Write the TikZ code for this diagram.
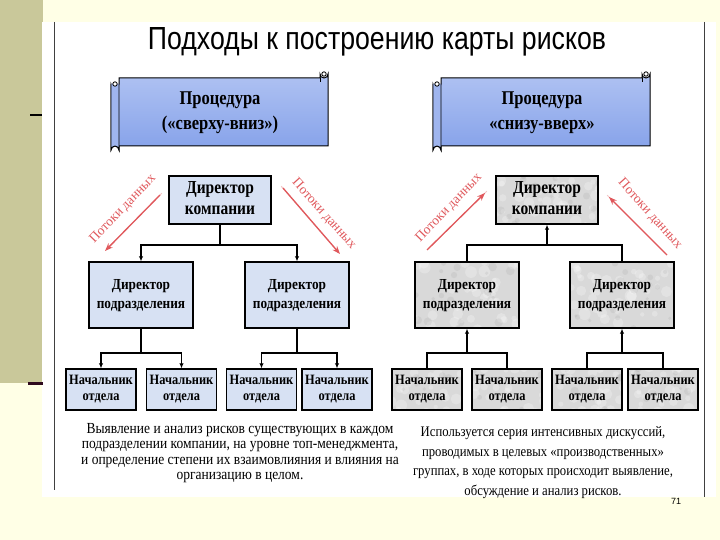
\documentclass[tikz,border=0pt]{standalone}
\usepackage{fontspec}
\setmainfont{Liberation Serif}
\newfontfamily\arialfont{Liberation Sans}
\usetikzlibrary{arrows.meta}
\definecolor{bgyel}{HTML}{FFFFE6}
\definecolor{khaki}{HTML}{C9C89A}
\definecolor{darkline}{HTML}{2E0A1E}
\definecolor{bluebox}{HTML}{D7E1F3}
\definecolor{graybox}{HTML}{D9D9D9}
\definecolor{redflow}{HTML}{E0585C}
\definecolor{bnTop}{HTML}{AFC2F2}
\definecolor{bnMid}{HTML}{F0F3FC}
\definecolor{bnBot}{HTML}{86A2EA}
\definecolor{rollblue}{HTML}{9FB5EE}
\newcommand{\vst}[2]{\scalebox{1}[#1]{\begin{tabular}{@{}c@{}}#2\end{tabular}}}
\tikzset{
  boxbase/.style={draw=black, line width=1.4pt, inner sep=0pt, align=center},
  bluebx/.style={boxbase, fill=bluebox},
  graybx/.style={boxbase, fill=graybox, path picture={
    \foreach \i in {1,...,40}{
      \pgfmathsetmacro\rx{rand*55}\pgfmathsetmacro\ry{rand*35}\pgfmathsetmacro\rr{2+4*rnd}
      \fill[white,opacity=0.25] ([shift={(\rx pt,\ry pt)}]path picture bounding box.center) circle (\rr pt);
    }
    \foreach \i in {1,...,20}{
      \pgfmathsetmacro\rx{rand*55}\pgfmathsetmacro\ry{rand*35}\pgfmathsetmacro\rr{1.5+3*rnd}
      \fill[gray,opacity=0.12] ([shift={(\rx pt,\ry pt)}]path picture bounding box.center) circle (\rr pt);
    }}},
  compbox/.style={minimum width=102pt, minimum height=48pt},
  subbox/.style={minimum width=104pt, minimum height=66pt},
  deptbox/.style={minimum width=70pt, minimum height=41pt},
  conn/.style={line width=1.4pt},
  arr/.style={conn, -{Latex[length=5pt,width=4.5pt]}},
  flow/.style={redflow, line width=1.3pt, -{Stealth[length=8pt,width=6pt]}},
  flowshade/.style={redflow!35, line width=1pt},
  flowtxt/.style={text=redflow, font=\fontsize{13.5}{13.5}\selectfont, inner sep=0pt},
  banner/.style={draw=black, line width=1pt, top color=bnTop, middle color=bnMid, bottom color=bnBot},
  compfont/.style={font=\fontsize{15.5}{18}\selectfont\bfseries},
  subfont/.style={font=\fontsize{13.3}{16.5}\selectfont\bfseries},
  deptfont/.style={font=\fontsize{12.4}{14}\selectfont\bfseries},
}
\newcommand{\scrollshape}{%
  \path[banner] (119,78) -- (320,78) -- (320,74) arc[start angle=180, end angle=360, radius=4pt]
    -- (328,146) -- (119,146) -- (119,150) arc[start angle=0, end angle=180, radius=4pt]
    -- (111,84) arc[start angle=180, end angle=360, radius=4pt] -- cycle;
  \draw[line width=0.9pt, fill=rollblue] (111,84) -- (111,150) arc[start angle=180, end angle=0, radius=4pt] -- (119,84);
  \draw[line width=0.8pt, fill=white] (115,84) circle (2.2pt);
  \draw[line width=0.8pt, fill=white] (324,74) circle (2.2pt);
  \draw[line width=0.9pt] (320,78) -- (320,82);
}
\begin{document}
\begin{tikzpicture}[x=1pt,y=-1pt]
\pgfmathsetseed{7}
\useasboundingbox (0,0) rectangle (720,540);
% slide background
\fill[bgyel] (0,0) rectangle (720,540);
\fill[khaki] (0,0) rectangle (43,383);
\fill[white] (42,22) rectangle (716,497);
\draw[darkline, line width=3pt] (28,383) -- (43,383);
\draw[line width=1.5pt] (30,115) -- (42,115);
\draw[black!75, line width=0.8pt] (54,22) -- (54,490);
\draw[black!75, line width=0.8pt] (704,22) -- (704,497);
% title
\node[anchor=base, inner sep=0pt] (title) at (377,50)
  {\resizebox{458pt}{22pt}{\arialfont\fontsize{30}{30}\selectfont Подходы к построению карты рисков}};
% banners
\scrollshape
\begin{scope}[xshift=322pt]\scrollshape\end{scope}
\node[font=\fontsize{16.5}{21.6}\selectfont\bfseries, inner sep=0pt] (BL) at (220,112)
  {\vst{1.18}{Процедура\\(«сверху-вниз»)}};
\node[font=\fontsize{16.5}{21.6}\selectfont\bfseries, inner sep=0pt] (BR) at (542,112)
  {\vst{1.18}{Процедура\\«снизу-вверх»}};
% ---------- left tree ----------
\node[bluebx, compbox, compfont] (LC) at (220,200) {\vst{1.18}{Директор\\компании}};
\node[bluebx, subbox, subfont] (LS1) at (141,295) {\vst{1.15}{Директор\\подразделения}};
\node[bluebx, subbox, subfont] (LS2) at (297,295) {\vst{1.15}{Директор\\подразделения}};
\node[bluebx, deptbox, deptfont] (LB1) at (101,389.5) {\vst{1.15}{Начальник\\отдела}};
\node[bluebx, deptbox, deptfont] (LB2) at (181.5,389.5) {\vst{1.15}{Начальник\\отдела}};
\node[bluebx, deptbox, deptfont] (LB3) at (261.5,389.5) {\vst{1.15}{Начальник\\отдела}};
\node[bluebx, deptbox, deptfont] (LB4) at (337,389.5) {\vst{1.15}{Начальник\\отдела}};
\coordinate (lj0) at (220,245);
\coordinate (lj1) at (141,353);
\coordinate (lj2) at (297,353);
\draw[conn] (LC.south) -- (lj0);
\draw[arr] (lj0) -| (LS1.north);
\draw[arr] (lj0) -| (LS2.north);
\draw[conn] (LS1.south) -- (lj1);
\draw[arr] (lj1) -| (LB1.north);
\draw[arr] (lj1) -| (LB2.north);
\draw[conn] (LS2.south) -- (lj2);
\draw[arr] (lj2) -| (LB3.north);
\draw[arr] (lj2) -| (LB4.north);
% red flows left
\coordinate (lf1a) at (160,195); \coordinate (lf1b) at (105,251);
\coordinate (lf2a) at (283,188); \coordinate (lf2b) at (340,254);
\draw[flowshade] ([shift={(1.8pt,1.8pt)}]lf1a) -- ([shift={(1.8pt,1.8pt)}]lf1b);
\draw[flowshade] ([shift={(-1.8pt,1.8pt)}]lf2a) -- ([shift={(-1.8pt,1.8pt)}]lf2b);
\draw[flow] (lf1a) -- (lf1b);
\draw[flow] (lf2a) -- (lf2b);
\node[flowtxt, rotate=46] (LFt1) at (123,209) {Потоки данных};
\node[flowtxt, rotate=-48] (LFt2) at (324,214) {Потоки данных};
% ---------- right tree ----------
\node[graybx, compbox, compfont] (RC) at (547,200) {\vst{1.18}{Директор\\компании}};
\node[graybx, subbox, subfont] (RS1) at (467,295) {\vst{1.15}{Директор\\подразделения}};
\node[graybx, subbox, subfont] (RS2) at (622,295) {\vst{1.15}{Директор\\подразделения}};
\node[graybx, deptbox, deptfont] (RB1) at (427,389.5) {\vst{1.15}{Начальник\\отдела}};
\node[graybx, deptbox, deptfont] (RB2) at (507,389.5) {\vst{1.15}{Начальник\\отдела}};
\node[graybx, deptbox, deptfont] (RB3) at (587,389.5) {\vst{1.15}{Начальник\\отдела}};
\node[graybx, deptbox, deptfont] (RB4) at (663,389.5) {\vst{1.15}{Начальник\\отдела}};
\coordinate (rj0) at (547,245);
\coordinate (rj1) at (467,353);
\coordinate (rj2) at (622,353);
\draw[conn] (RS1.north) |- (rj0) -| (RS2.north);
\draw[arr] (rj0) -- (RC.south);
\draw[conn] (RB1.north) |- (rj1) -| (RB2.north);
\draw[arr] (rj1) -- (RS1.south);
\draw[conn] (RB3.north) |- (rj2) -| (RB4.north);
\draw[arr] (rj2) -- (RS2.south);
% red flows right
\coordinate (rf1a) at (427,250); \coordinate (rf1b) at (485,193);
\coordinate (rf2a) at (667,255); \coordinate (rf2b) at (609,197);
\draw[flowshade] ([shift={(1.8pt,1.8pt)}]rf1a) -- ([shift={(1.8pt,1.8pt)}]rf1b);
\draw[flowshade] ([shift={(-1.8pt,1.8pt)}]rf2a) -- ([shift={(-1.8pt,1.8pt)}]rf2b);
\draw[flow] (rf1a) -- (rf1b);
\draw[flow] (rf2a) -- (rf2b);
\node[flowtxt, rotate=46] (RFt1) at (449,208) {Потоки данных};
\node[flowtxt, rotate=-48] (RFt2) at (650,214) {Потоки данных};
% descriptions
\node[font=\fontsize{13.5}{13.6}\selectfont, inner sep=0pt] (DL) at (240,453.5)
  {\vst{1.14}{Выявление и анализ рисков существующих в каждом\\
   подразделении компании, на уровне топ-менеджмента,\\
   и определение степени их взаимовлияния и влияния на\\
   организацию в целом.}};
\node[font=\fontsize{12.7}{17}\selectfont, inner sep=0pt] (DR) at (543,462)
  {\vst{1.15}{Используется серия интенсивных дискуссий,\\
   проводимых в целевых «производственных»\\
   группах, в ходе которых происходит выявление,\\
   обсуждение и анализ рисков.}};
\node[font=\arialfont\fontsize{9}{9}\selectfont, inner sep=0pt] (pg) at (676,501) {71};
\end{tikzpicture}
\end{document}
